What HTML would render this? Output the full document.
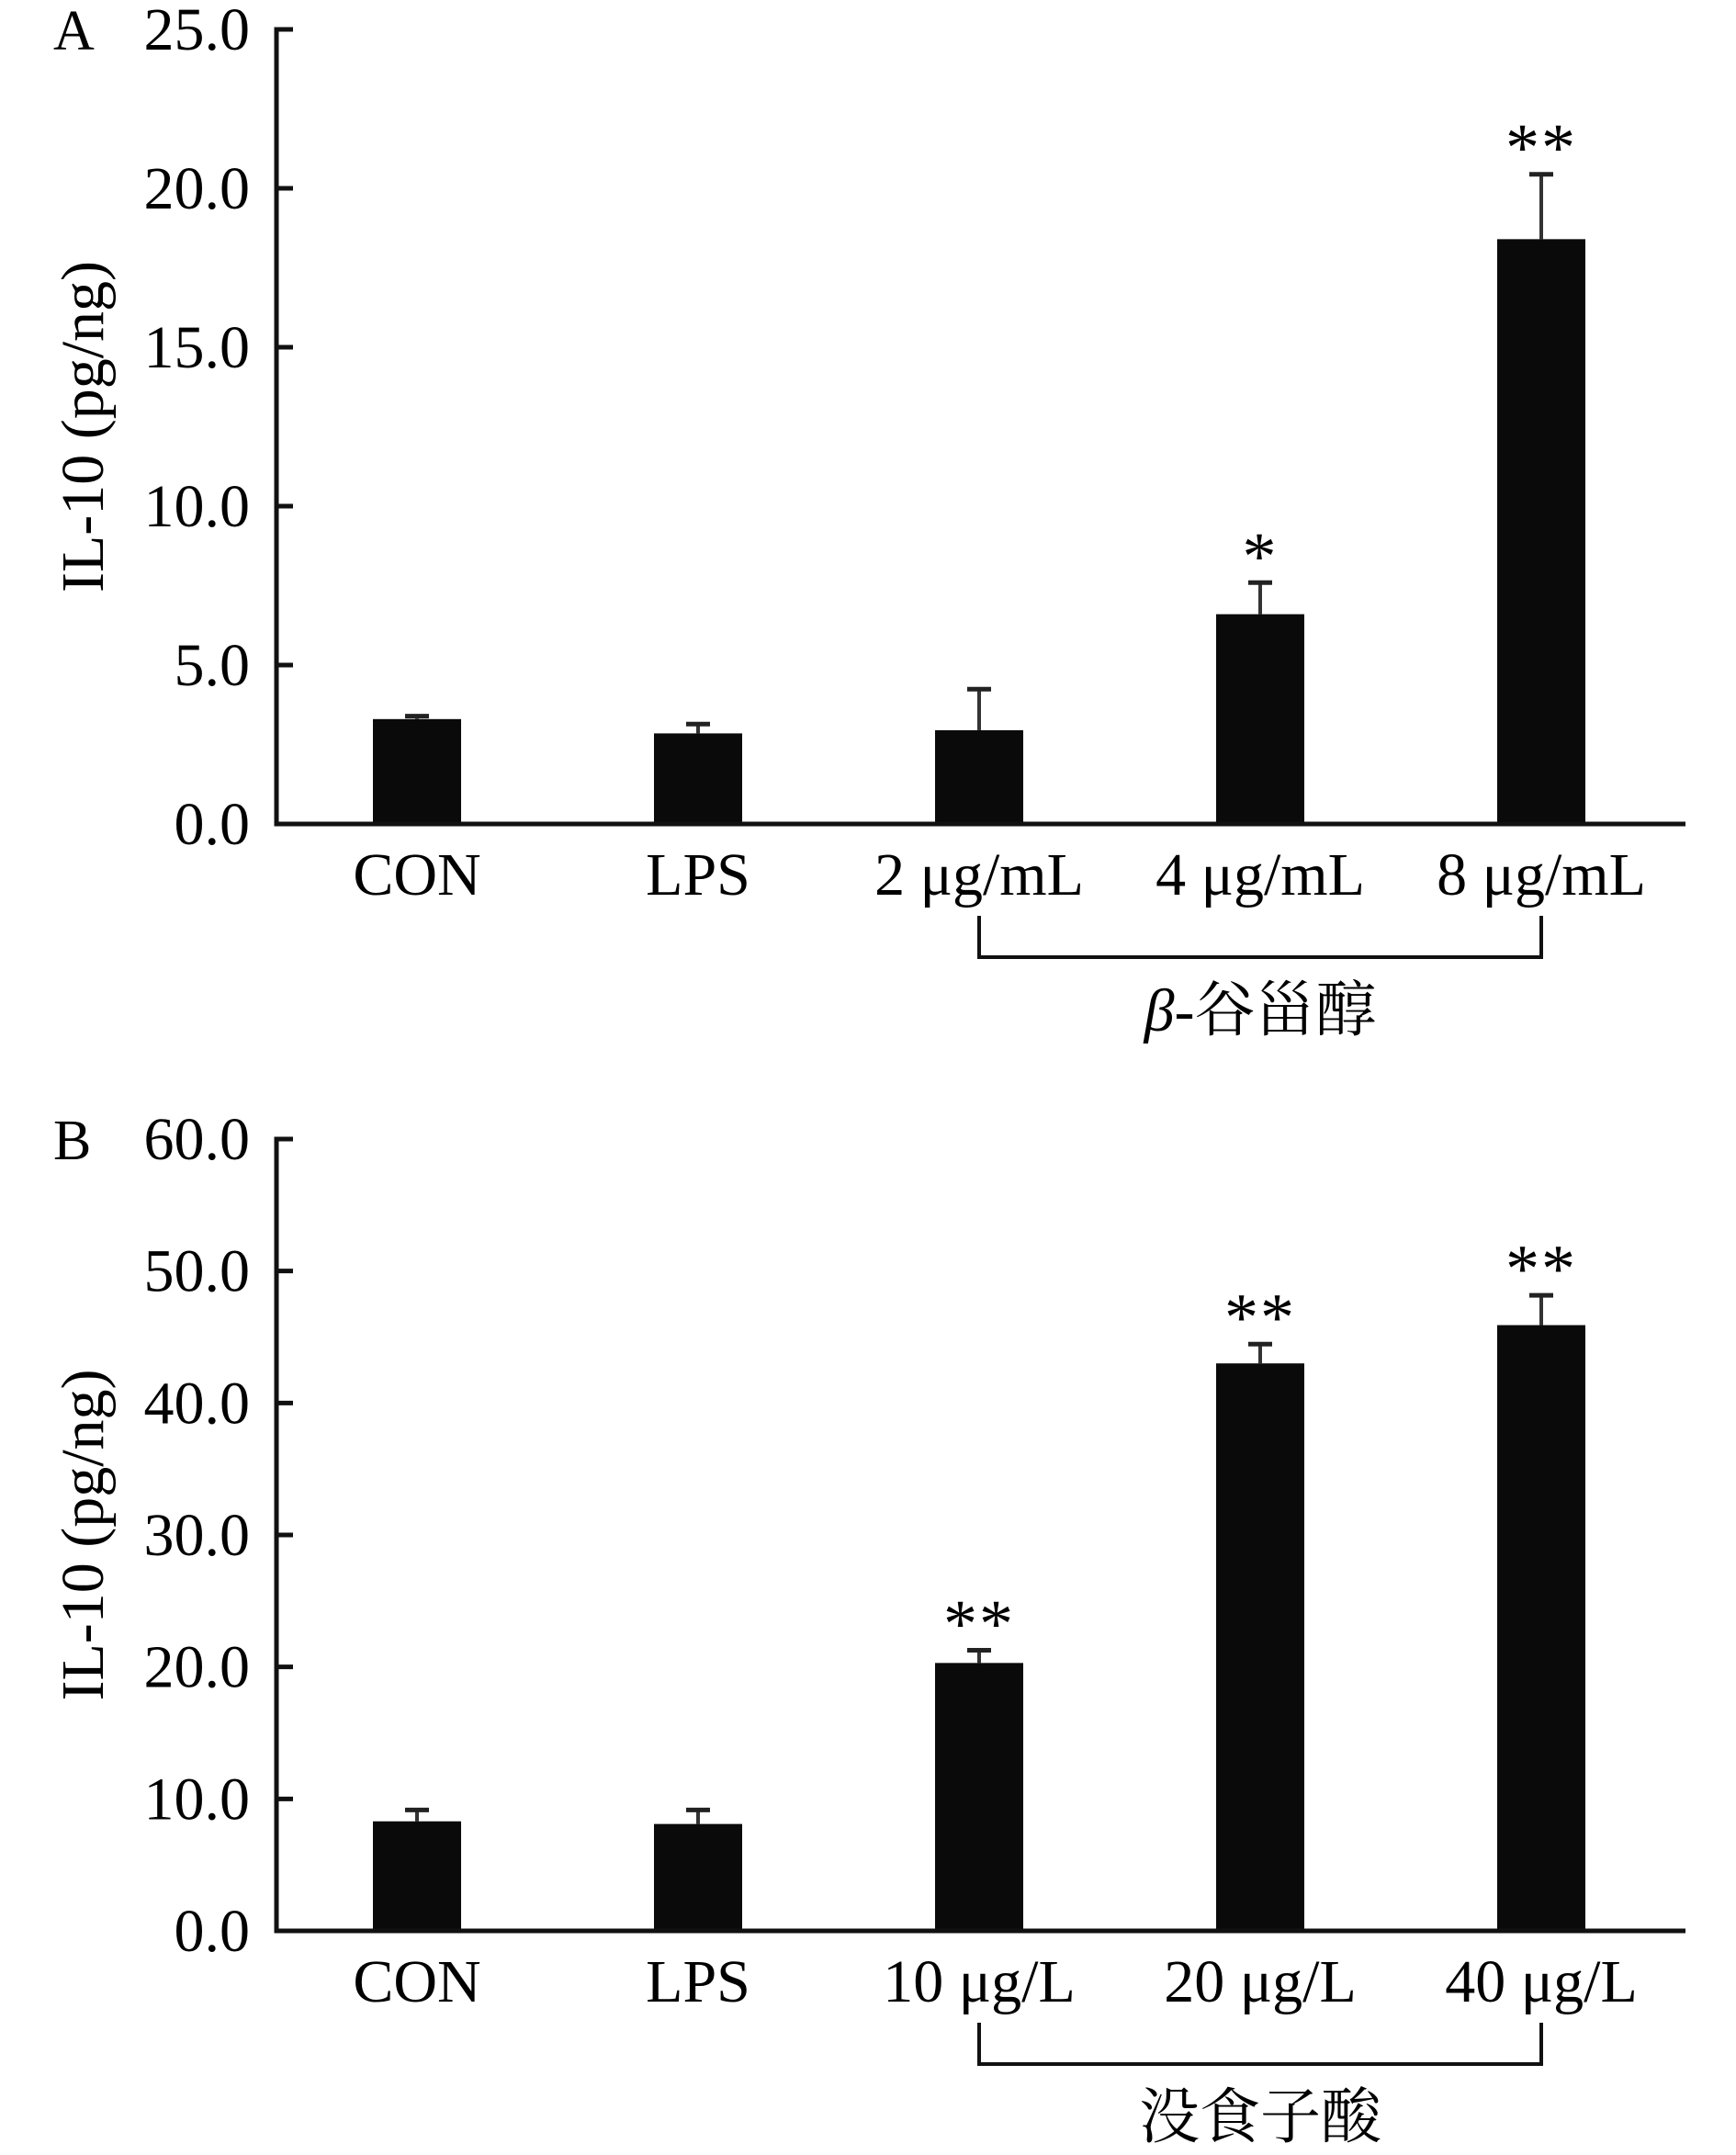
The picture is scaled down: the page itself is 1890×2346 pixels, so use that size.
<!DOCTYPE html>
<html><head><meta charset="utf-8"><style>
html,body{margin:0;padding:0;background:#fff;}
svg{display:block;}
text{font-family:"Liberation Serif","Noto Serif CJK SC",serif;fill:#000;}
</style></head><body>
<svg id="chart" width="1890" height="2346" viewBox="0 0 1890 2346" xmlns="http://www.w3.org/2000/svg"></svg>
<script>
const catsA = ["CON","LPS","2 μg/mL","4 μg/mL","8 μg/mL"];
const valsA = [3.3, 2.85, 2.95, 6.6, 18.4];
const errA = [3.45, 3.2, 4.3, 7.65, 20.5];
const starsA = ["", "", "", "*", "**"];
const ticksA = ["0.0","5.0","10.0","15.0","20.0","25.0"];
const tickValsA = [0,5,10,15,20,25];

const catsB = ["CON","LPS","10 μg/L","20 μg/L","40 μg/L"];
const valsB = [8.3, 8.1, 20.3, 43.0, 45.9];
const errB = [9.3, 9.3, 21.4, 44.6, 48.3];
const starsB = ["", "", "**", "**", "**"];
const ticksB = ["0.0","10.0","20.0","30.0","40.0","50.0","60.0"];
const tickValsB = [0,10,20,30,40,50,60];

const NS = "http://www.w3.org/2000/svg";
const svg = document.getElementById("chart");
function mk(tag, attrs, parent){
  const e = document.createElementNS(NS, tag);
  for (const k in attrs) e.setAttribute(k, attrs[k]);
  (parent||svg).appendChild(e);
  return e;
}

function panel(p){
  const g = mk("g", {});
  
  
  const axX = 301, axRight = 1835;
  const yS = v => p.base - (v / p.max) * (p.base - p.top);
  const xS = i => 454 + 306 * i;
  const L = mk("text", {x:58, y:p.top+22, "font-size":62}, g);
  L.textContent = p.letter;
  
  
  const yt = mk("text", {x:0, y:0, "font-size":66, "text-anchor":"middle", transform:`translate(112,${(p.top+p.base)/2}) rotate(-90)`}, g);
  yt.textContent = "IL-10 (pg/ng)";
  
  
  p.tickVals.forEach((tv, i) => {
    const y = yS(tv);
    const t = mk("line", {x1:axX, x2:axX+18, y1:y, y2:y, stroke:"#111", "stroke-width":5}, g);
    
    
    const lb = mk("text", {x:272, y:y+22, "font-size":66, "text-anchor":"end"}, g);
    lb.textContent = p.ticks[i];
    
    
  });
  p.vals.forEach((v, i) => {
    const cx = xS(i);
    const eb = mk("line", {x1:cx, x2:cx, y1:yS(p.err[i]), y2:yS(v), stroke:"#333", "stroke-width":4}, g);
    
    
    const cap = mk("line", {x1:cx-13, x2:cx+13, y1:yS(p.err[i])+2, y2:yS(p.err[i])+2, stroke:"#222", "stroke-width":5}, g);
    
    
    const b = mk("rect", {x:cx-48, y:yS(v), width:96, height:p.base - yS(v), fill:"#0a0a0a"}, g);
    
    
    if (p.stars[i]) {
      const s = mk("text", {x:cx, y:yS(p.err[i]) - 2, "font-size":74, "text-anchor":"middle", "letter-spacing":"2"}, g);
      s.textContent = p.stars[i];
      
      
    }
    const cl = mk("text", {x:cx, y:p.base+77, "font-size":66, "text-anchor":"middle"}, g);
    cl.textContent = p.cats[i];
    
    
  });
  const ya = mk("path", {d:`M${axX+18},${p.top} H${axX} V${p.base} H${axRight}`, fill:"none", stroke:"#111", "stroke-width":5}, g);
  
  
  const b1 = xS(2), b2 = xS(4);
  const br = mk("path", {d:`M${b1},${p.base+100} V${p.base+145} H${b2} V${p.base+100}`, fill:"none", stroke:"#111", "stroke-width":4}, g);
  
  
  const gt = mk("text", {x:(b1+b2)/2, y:p.base+225, "font-size":66, "text-anchor":"middle"}, g);
  if (p.italicPrefix) {
    const ts = mk("tspan", {"font-style":"italic"}, gt);
    ts.textContent = p.italicPrefix;
    const ts2 = mk("tspan", {}, gt);
    ts2.textContent = p.groupTitle;
  } else {
    gt.textContent = p.groupTitle;
  }
  
  
}

panel({id:"a", letter:"A", top:32, base:897, max:25, cats:catsA, vals:valsA, err:errA, stars:starsA, ticks:ticksA, tickVals:tickValsA, italicPrefix:"β", groupTitle:"-谷甾醇"});
panel({id:"b", letter:"B", top:1240, base:2102, max:60, cats:catsB, vals:valsB, err:errB, stars:starsB, ticks:ticksB, tickVals:tickValsB, italicPrefix:"", groupTitle:"没食子酸"});
</script>
</body></html>
